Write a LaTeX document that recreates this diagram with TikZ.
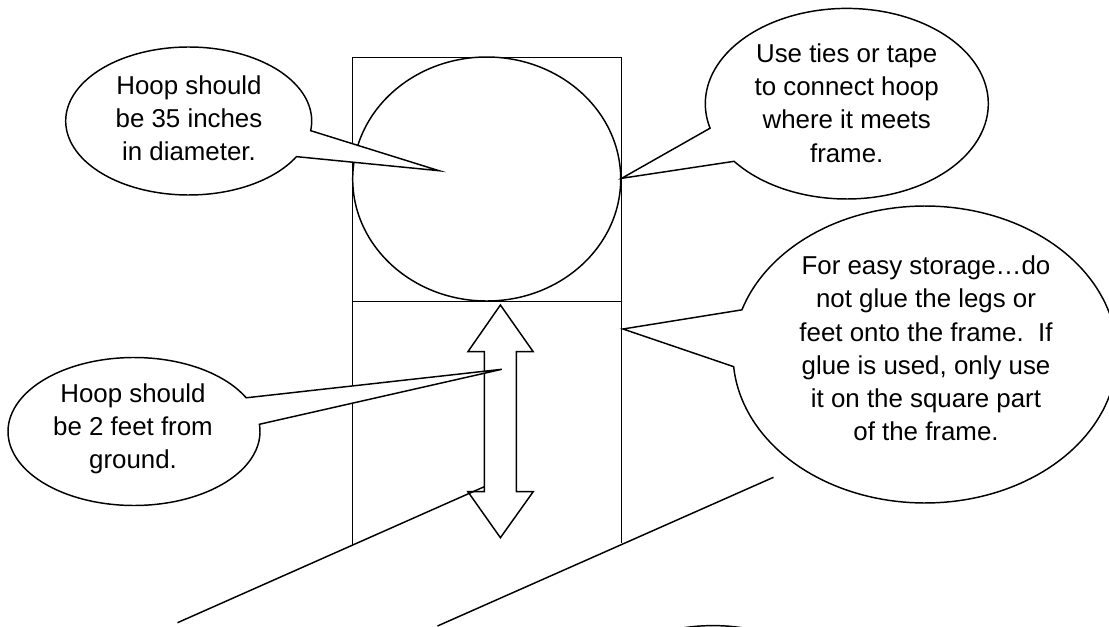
\documentclass[tikz,border=0pt]{standalone}
\usepackage{fontspec}
\setmainfont{Liberation Sans}
\newcommand{\calloutpath}[7]{%
  \draw[shapeline,fill=white] plot[domain=#5:#6,samples=160] ({#1+#3*cos(\x)},{#2+#4*sin(\x)}) -- (#7) -- cycle;}
\tikzset{
  shapeline/.style={draw=black,line width=1.1pt,line join=miter},
  note/.style={font=\fontsize{19.4pt}{24.9pt}\selectfont,align=center,inner sep=0pt,text=black}
}
\begin{document}
\begin{tikzpicture}[x=0.75pt,y=-0.75pt]
\useasboundingbox (0,0) rectangle (1109,627);
\clip (0,0) rectangle (1109,627);
\fill[white] (0,0) rectangle (1109,627);
% frame
\coordinate (tl) at (352.5,57.5);
\coordinate (tr) at (621.3,57.5);
\coordinate (ml) at (352.5,301.5);
\coordinate (mr) at (621.3,301.5);
\coordinate (bl) at (352.5,545);
\coordinate (br) at (621.3,543);
\draw[shapeline] (ml) -- (tl) -- (tr) -- (mr);
\draw[shapeline] (ml) -- (mr);
\draw[shapeline] (ml) -- (bl);
\draw[shapeline] (mr) -- (br);
% hoop
\draw[shapeline] (486.7,179) ellipse [x radius=134,y radius=122];
% double arrow
\draw[shapeline,fill=white] (500.4,305) -- (533.2,351.7) -- (516.4,351.7) -- (516.4,491.7) -- (533.2,491.7)
  -- (500.4,537.7) -- (467.9,491.7) -- (484.3,491.7) -- (484.3,351.7) -- (467.9,351.7) -- cycle;
% feet
\coordinate (f1a) at (177.5,622.7);
\coordinate (f1b) at (484.3,486.7);
\coordinate (f2a) at (437.5,626);
\coordinate (f2b) at (773.5,477.3);
\draw[shapeline] (f1a) -- (f1b);
\draw[shapeline] (f2a) -- (f2b);
% callouts
\coordinate (t1) at (439,170.7);
\coordinate (t2) at (621.7,178.3);
\coordinate (t3) at (623,329);
\coordinate (t4) at (501.8,369.3);
\calloutpath{188.7}{121}{123}{74}{28.8}{367.5}{t1}
\calloutpath{846.8}{103.7}{141.5}{95.3}{165.1}{502.8}{t2}
\calloutpath{925}{354.5}{192}{148.5}{197.5}{535.3}{t3}
\calloutpath{134}{431.5}{126}{74}{-5.6}{332.9}{t4}
\draw[shapeline] plot[domain=225:315,samples=40] ({713+78*cos(\x)},{655.6+30*sin(\x)});
\node[note] (n1) at (189,118.5) {Hoop should\\be 35 inches\\in diameter.};
\node[note] (n2) at (846.7,103) {Use ties or tape\\to connect hoop\\where it meets\\frame.};
\node[note] (n3) at (926,348.5) {For easy storage…do\\not glue the legs or\\feet onto the frame.\ \ If\\glue is used, only use\\it on the square part\\of the frame.};
\node[note] (n4) at (133,429) {Hoop should\\be 2 feet from\\ground.};
\end{tikzpicture}
\end{document}
